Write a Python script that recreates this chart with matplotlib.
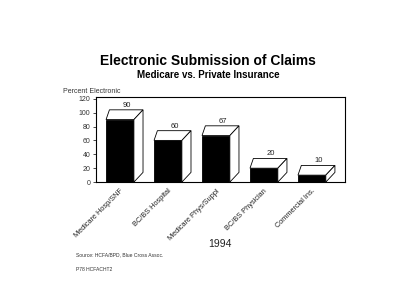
import matplotlib
matplotlib.use("Agg")
import matplotlib.pyplot as plt
from matplotlib.patches import Polygon

plt.rcParams['font.family'] = ['Liberation Sans', 'DejaVu Sans']

categories = ["Medicare Hosp/SNF", "BC/BS Hospital", "Medicare Phys/Suppl",
              "BC/BS Physician", "Commercial Ins."]
values = [90, 60, 67, 20, 10]
labels = ["90", "60", "67", "20", "10"]
yticks = [0, 20, 40, 60, 80, 100, 120]

fig = plt.figure(figsize=(4.0, 3.04), dpi=100)
ax = fig.add_axes([0.24, 0.401, 0.6225, 0.28])

x = list(range(len(categories)))
w = 0.58
dxl, dxr, dy = 0.07, 0.19, 14.0
ax.bar(x, values, width=w, color='black', edgecolor='black', linewidth=0.6, zorder=3)
for xi, v, lab in zip(x, values, labels):
    l, r = xi - w / 2, xi + w / 2
    top = Polygon([(l, v), (r, v), (r + dxr, v + dy), (l + dxl, v + dy)],
                  closed=True, facecolor='white', edgecolor='black', linewidth=0.6, zorder=4)
    side = Polygon([(r, 0), (r, v), (r + dxr, v + dy), (r + dxr, dy)],
                   closed=True, facecolor='white', edgecolor='black', linewidth=0.6, zorder=4)
    ax.add_patch(top)
    ax.add_patch(side)
    ax.text(xi + 0.15, v + dy + 1.5, lab, ha='center', va='bottom', fontsize=5.5, color='#222222')

ax.set_xlim(-0.5, 4.69)
ax.set_ylim(0, 122.5)
ax.set_yticks(yticks)
ax.set_yticklabels([str(t) for t in yticks], fontsize=5, color='#333333')
ax.tick_params(axis='y', length=2, width=0.5, pad=2)
ax.set_xticks(x)
ax.set_xticklabels(categories, rotation=45, ha='right', va='top',
                   rotation_mode='anchor', fontsize=5.3, color='#222222')
ax.tick_params(axis='x', length=0, pad=4)
for s in ax.spines.values():
    s.set_linewidth(0.8)

fig.text(0.52, 0.80, "Electronic Submission of Claims", ha='center', va='center',
         fontsize=10, fontweight='bold')
fig.text(0.52, 0.753, "Medicare vs. Private Insurance", ha='center', va='center',
         fontsize=7, fontweight='bold')
fig.text(0.158, 0.688, "Percent Electronic", ha='left', va='bottom', fontsize=5, color='#333333')
fig.text(0.55, 0.197, "1994", ha='center', va='center', fontsize=7.5, color='#222222')
fig.text(0.19, 0.161, "Source: HCFA/BPD, Blue Cross Assoc.", ha='left', va='center',
         fontsize=3.6, color='#333333')
fig.text(0.19, 0.115, "P78 HCFACHT2", ha='left', va='center', fontsize=3.6, color='#333333')

fig.savefig("out.png", dpi=100, facecolor='white')
